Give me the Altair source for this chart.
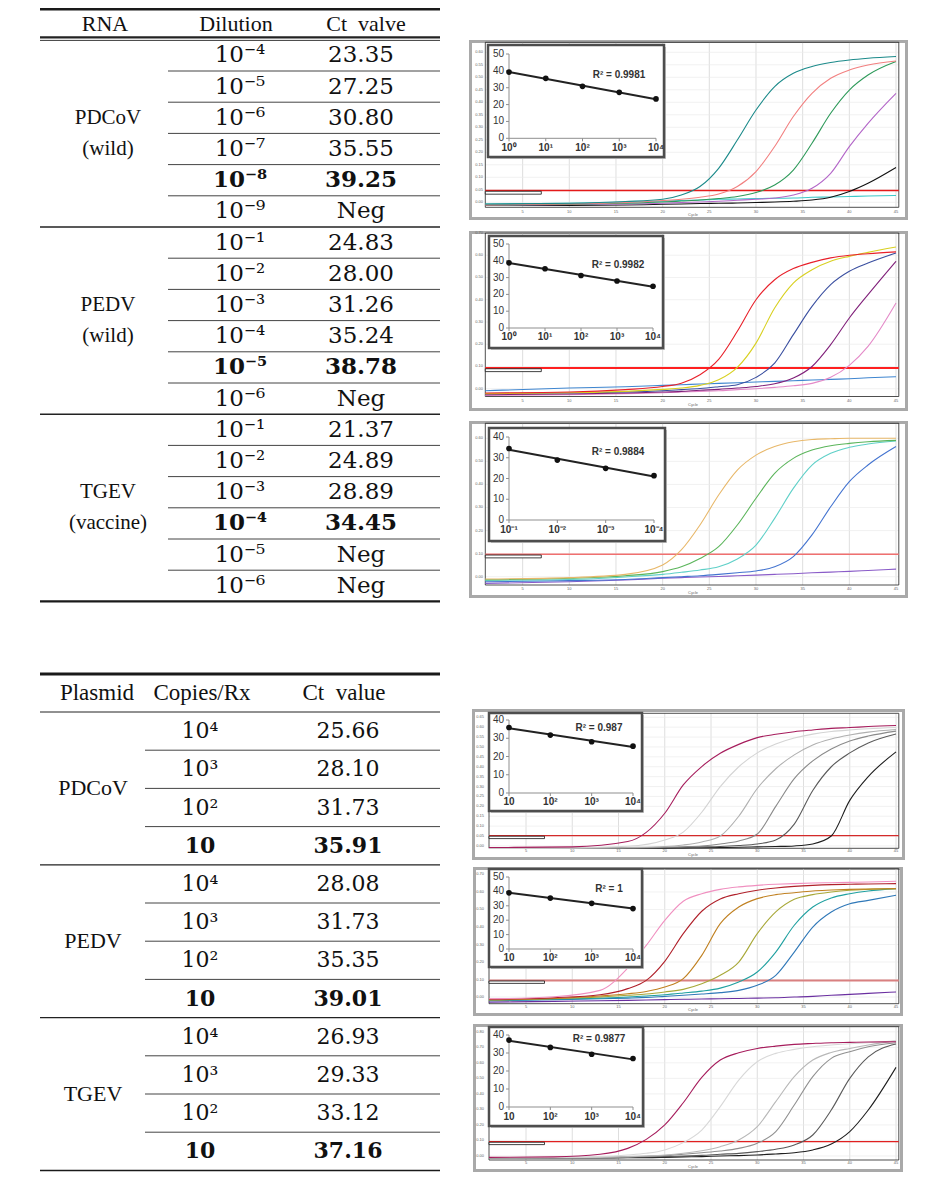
import altair as alt
import pandas as pd

# ====================================================================== TABLE DATA
rna_headers = ["RNA", "Dilution", "Ct\u2002valve"]
rna_groups = ["PDCoV\n(wild)", "PEDV\n(wild)", "TGEV\n(vaccine)"]
rna_dilutions = ["10⁻⁴", "10⁻⁵", "10⁻⁶", "10⁻⁷", "10⁻⁸", "10⁻⁹",
                 "10⁻¹", "10⁻²", "10⁻³", "10⁻⁴", "10⁻⁵", "10⁻⁶",
                 "10⁻¹", "10⁻²", "10⁻³", "10⁻⁴", "10⁻⁵", "10⁻⁶"]
rna_ct_values = ["23.35", "27.25", "30.80", "35.55", "39.25", "Neg",
                 "24.83", "28.00", "31.26", "35.24", "38.78", "Neg",
                 "21.37", "24.89", "28.89", "34.45", "Neg", "Neg"]
rna_bold_rows = [4, 10, 15]

plasmid_headers = ["Plasmid", "Copies/Rx", "Ct\u2002value"]
plasmid_groups = ["PDCoV", "PEDV", "TGEV"]
plasmid_copies = ["10⁴", "10³", "10²", "10",
                  "10⁴", "10³", "10²", "10",
                  "10⁴", "10³", "10²", "10"]
plasmid_ct_values = ["25.66", "28.10", "31.73", "35.91",
                     "28.08", "31.73", "35.35", "39.01",
                     "26.93", "29.33", "33.12", "37.16"]
plasmid_bold_rows = [3, 7, 11]

# ====================================================================== AMPLIFICATION CURVES
cycle_ticks = [5, 10, 15, 20, 25, 30, 35, 40, 45]
cycles_a = [1, 10, 16, 20, 22, 24, 26, 28, 30, 32, 34, 36, 38, 40, 42, 45]
cycles_b = [1, 8, 13, 16, 18, 20, 22, 24, 26, 28, 30, 32, 34, 36, 38, 40, 42, 45]

# PDCoV RNA
p1_teal = [-0.007, -0.004, 0.003, 0.012, 0.029, 0.063, 0.136, 0.249, 0.369, 0.463, 0.516, 0.543, 0.559, 0.569, 0.576, 0.583]
p1_salmon = [-0.011, -0.007, -0.001, 0.007, 0.012, 0.020, 0.033, 0.063, 0.123, 0.223, 0.343, 0.436, 0.496, 0.529, 0.549, 0.565]
p1_green = [-0.011, -0.008, -0.004, 0.001, 0.005, 0.009, 0.015, 0.023, 0.039, 0.069, 0.129, 0.236, 0.356, 0.449, 0.509, 0.563]
p1_violet = [-0.012, -0.009, -0.007, -0.004, -0.001, 0.001, 0.004, 0.008, 0.012, 0.017, 0.029, 0.056, 0.116, 0.223, 0.316, 0.436]
p1_black = [-0.013, -0.013, -0.011, -0.008, -0.007, -0.005, -0.004, -0.003, -0.001, 0.001, 0.004, 0.009, 0.020, 0.043, 0.076, 0.139]
p1_cyan = [-0.007, -0.004, 0.000, 0.004, 0.007, 0.009, 0.012, 0.013, 0.015, 0.016, 0.017, 0.020, 0.021, 0.023, 0.025, 0.027]
p1_yticks = [0.00, 0.05, 0.10, 0.15, 0.20, 0.25, 0.30, 0.35, 0.40, 0.45, 0.50, 0.55, 0.60]
p1_threshold = 0.047

# PEDV RNA
p2_red = [-0.019, -0.015, -0.004, 0.010, 0.025, 0.063, 0.132, 0.258, 0.400, 0.490, 0.540, 0.568, 0.588, 0.600, 0.607, 0.615]
p2_yellow = [-0.022, -0.018, -0.012, -0.003, 0.003, 0.015, 0.040, 0.096, 0.205, 0.363, 0.475, 0.535, 0.573, 0.595, 0.613, 0.637]
p2_navy = [-0.022, -0.019, -0.015, -0.009, -0.004, 0.001, 0.009, 0.018, 0.051, 0.115, 0.243, 0.370, 0.468, 0.528, 0.565, 0.610]
p2_plum = [-0.027, -0.024, -0.019, -0.015, -0.012, -0.007, -0.003, 0.003, 0.010, 0.022, 0.048, 0.100, 0.198, 0.318, 0.423, 0.573]
p2_pink = [-0.030, -0.027, -0.022, -0.018, -0.015, -0.012, -0.009, -0.004, 0.000, 0.006, 0.013, 0.024, 0.051, 0.105, 0.190, 0.385]
p2_steel = [-0.009, 0.003, 0.009, 0.015, 0.018, 0.021, 0.024, 0.027, 0.030, 0.033, 0.036, 0.039, 0.042, 0.045, 0.049, 0.054]
p2_yticks = [0.0, 0.1, 0.2, 0.3, 0.4, 0.5, 0.6, 0.7]
p2_threshold = 0.093

# TGEV RNA
p3_tan = [-0.010, -0.004, 0.010, 0.051, 0.116, 0.224, 0.354, 0.462, 0.527, 0.564, 0.585, 0.595, 0.598, 0.600, 0.600, 0.600]
p3_green = [-0.013, -0.007, 0.004, 0.022, 0.043, 0.079, 0.130, 0.224, 0.340, 0.448, 0.513, 0.549, 0.568, 0.578, 0.585, 0.591]
p3_aqua = [-0.016, -0.012, -0.001, 0.010, 0.019, 0.029, 0.043, 0.077, 0.137, 0.253, 0.383, 0.484, 0.535, 0.561, 0.575, 0.588]
p3_blue = [-0.022, -0.017, -0.012, -0.004, 0.000, 0.004, 0.010, 0.017, 0.025, 0.043, 0.087, 0.181, 0.303, 0.412, 0.484, 0.564]
p3_purple = [-0.029, -0.022, -0.014, -0.007, -0.004, -0.001, 0.001, 0.004, 0.007, 0.010, 0.013, 0.017, 0.020, 0.023, 0.027, 0.033]
p3_yticks = [0.0, 0.1, 0.2, 0.3, 0.4, 0.5, 0.6]
p3_threshold = 0.097

# PDCoV plasmid
p4_magenta = [-0.008, -0.005, 0.022, 0.165, 0.308, 0.401, 0.468, 0.513, 0.547, 0.564, 0.577, 0.586, 0.594, 0.598, 0.603, 0.608]
p4_light = [-0.012, -0.010, -0.002, 0.030, 0.070, 0.170, 0.300, 0.400, 0.470, 0.515, 0.545, 0.565, 0.578, 0.586, 0.592, 0.598]
p4_gray = [-0.012, -0.012, -0.008, -0.003, 0.005, 0.020, 0.050, 0.150, 0.290, 0.390, 0.460, 0.510, 0.540, 0.560, 0.575, 0.588]
p4_mid = [-0.012, -0.012, -0.010, -0.007, -0.004, 0.000, 0.010, 0.025, 0.060, 0.200, 0.340, 0.430, 0.490, 0.530, 0.555, 0.580]
p4_dark = [-0.012, -0.012, -0.011, -0.009, -0.007, -0.005, -0.003, 0.002, 0.010, 0.030, 0.110, 0.280, 0.400, 0.470, 0.520, 0.565]
p4_black = [-0.012, -0.012, -0.012, -0.011, -0.010, -0.009, -0.008, -0.007, -0.005, -0.003, 0.000, 0.010, 0.050, 0.230, 0.350, 0.475]
p4_yticks = [0.00, 0.05, 0.10, 0.15, 0.20, 0.25, 0.30, 0.35, 0.40, 0.45, 0.50, 0.55, 0.60, 0.65]
p4_threshold = 0.052

# PEDV plasmid
p5_pink = [-0.010, 0.002, 0.038, 0.166, 0.295, 0.438, 0.547, 0.590, 0.615, 0.629, 0.638, 0.644, 0.648, 0.651, 0.653, 0.655, 0.657, 0.661]
p5_darkred = [-0.013, -0.004, 0.013, 0.048, 0.095, 0.204, 0.362, 0.490, 0.560, 0.590, 0.610, 0.623, 0.632, 0.638, 0.642, 0.644, 0.646, 0.648]
p5_orange = [-0.015, -0.008, 0.006, 0.019, 0.032, 0.057, 0.105, 0.238, 0.419, 0.514, 0.562, 0.585, 0.596, 0.606, 0.611, 0.615, 0.617, 0.619]
p5_olive = [-0.017, -0.010, 0.000, 0.010, 0.017, 0.029, 0.044, 0.076, 0.124, 0.200, 0.362, 0.486, 0.558, 0.585, 0.600, 0.610, 0.615, 0.619]
p5_teal = [-0.019, -0.013, -0.006, 0.000, 0.006, 0.013, 0.023, 0.034, 0.051, 0.086, 0.143, 0.257, 0.410, 0.514, 0.566, 0.590, 0.606, 0.619]
p5_blue = [-0.021, -0.015, -0.010, -0.006, -0.002, 0.004, 0.010, 0.017, 0.025, 0.038, 0.067, 0.124, 0.257, 0.400, 0.486, 0.533, 0.552, 0.581]
p5_purple = [-0.029, -0.025, -0.021, -0.019, -0.017, -0.015, -0.013, -0.011, -0.010, -0.008, -0.006, -0.004, 0.000, 0.004, 0.010, 0.015, 0.021, 0.029]
p5_yticks = [0.0, 0.1, 0.2, 0.3, 0.4, 0.5, 0.6, 0.7]
p5_threshold = 0.095

# TGEV plasmid
p6_magenta = [-0.009, -0.006, 0.011, 0.049, 0.107, 0.200, 0.343, 0.506, 0.618, 0.665, 0.693, 0.708, 0.719, 0.725, 0.730, 0.732, 0.734, 0.736]
p6_light = [-0.011, -0.009, -0.004, 0.006, 0.017, 0.039, 0.086, 0.167, 0.318, 0.489, 0.607, 0.661, 0.687, 0.704, 0.715, 0.723, 0.730, 0.742]
p6_gray = [-0.011, -0.011, -0.009, -0.004, 0.000, 0.006, 0.017, 0.034, 0.060, 0.103, 0.189, 0.350, 0.511, 0.618, 0.667, 0.693, 0.715, 0.742]
p6_mid = [-0.011, -0.011, -0.009, -0.006, -0.002, 0.002, 0.011, 0.021, 0.032, 0.049, 0.082, 0.157, 0.328, 0.511, 0.629, 0.672, 0.704, 0.730]
p6_dark = [-0.013, -0.013, -0.011, -0.009, -0.006, -0.004, 0.000, 0.004, 0.011, 0.017, 0.028, 0.043, 0.071, 0.135, 0.296, 0.500, 0.639, 0.721]
p6_black = [-0.013, -0.013, -0.013, -0.011, -0.011, -0.009, -0.006, -0.004, 0.000, 0.002, 0.006, 0.013, 0.021, 0.039, 0.077, 0.157, 0.296, 0.571]
p6_yticks = [0.0, 0.1, 0.2, 0.3, 0.4, 0.5, 0.6, 0.7, 0.8]
p6_threshold = 0.092

# ====================================================================== STANDARD CURVE INSETS
inset1_ct = [39.25, 35.55, 30.80, 27.25, 23.35]
inset1_labels = ["10⁰", "10¹", "10²", "10³", "10⁴"]
inset1_r2 = "R² = 0.9981"
inset2_ct = [38.78, 35.24, 31.26, 28.00, 24.83]
inset2_labels = ["10⁰", "10¹", "10²", "10³", "10⁴"]
inset2_r2 = "R² = 0.9982"
inset3_ct = [34.45, 28.89, 24.89, 21.37]
inset3_labels = ["10⁻¹", "10⁻²", "10⁻³", "10⁻⁴"]
inset3_r2 = "R² = 0.9884"
inset4_ct = [35.91, 31.73, 28.10, 25.66]
inset4_labels = ["10", "10²", "10³", "10⁴"]
inset4_r2 = "R² = 0.987"
inset5_ct = [39.01, 35.35, 31.73, 28.08]
inset5_labels = ["10", "10²", "10³", "10⁴"]
inset5_r2 = "R² = 1"
inset6_ct = [37.16, 33.12, 29.33, 26.93]
inset6_labels = ["10", "10²", "10³", "10⁴"]
inset6_r2 = "R² = 0.9877"

# ====================================================================== STYLE / LAYOUT
SERIF = "Liberation Serif"
NUMF = "DejaVu Serif"
SANS = "Liberation Sans"
ONE = pd.DataFrame({"k": [0]})


def table_chart(T, headers, groups, col2, col3, bold_rows, per_group):
    n = len(col2)
    ys = alt.Scale(domain=[0, n], range=[T["row_top"], T["row_bottom"]], nice=False, zero=False)
    rows = pd.DataFrame({"mid": [i + 0.5 for i in range(n)], "c2": col2, "c3": col3,
                         "bold": [i in bold_rows for i in range(n)]})
    grp = pd.DataFrame({"mid": [g * per_group + per_group / 2 for g in range(len(groups))],
                        "label": groups})
    inner = pd.DataFrame({"b": [i for i in range(1, n) if i % per_group]})
    block = pd.DataFrame({"b": [i for i in range(per_group, n, per_group)]})
    L, R = T["left"], T["right"]

    def Y(f):
        return alt.Y(f, scale=ys, axis=None)

    layers = [alt.Chart(ONE).mark_rect(fill="white", opacity=0).encode(
        x=alt.value(0), x2=alt.value(T["W"]), y=alt.value(0), y2=alt.value(T["H"]))]
    layers.append(alt.Chart(ONE).mark_rule(color="#1a1a1a", strokeWidth=T["top_w"]).encode(
        x=alt.value(L), x2=alt.value(R), y=alt.value(T["top_y"])))
    for h, hx in zip(headers, T["head_x"]):
        layers.append(alt.Chart(ONE).mark_text(text=h, font=SERIF, fontSize=T["head_fs"],
                                               baseline="middle", color="#111").encode(
            x=alt.value(hx), y=alt.value(T["head_y"])))
    for yy, w in T["head_lines"]:
        layers.append(alt.Chart(ONE).mark_rule(color="#222", strokeWidth=w).encode(
            x=alt.value(L), x2=alt.value(R), y=alt.value(yy)))
    layers.append(alt.Chart(inner).mark_rule(color="#444", strokeWidth=1).encode(
        x=alt.value(T["inner_x"]), x2=alt.value(R), y=Y("b:Q")))
    layers.append(alt.Chart(block).mark_rule(color="#222", strokeWidth=T["block_w"]).encode(
        x=alt.value(L), x2=alt.value(R), y=Y("b:Q")))
    layers.append(alt.Chart(ONE).mark_rule(color="#1a1a1a", strokeWidth=T["bottom_w"]).encode(
        x=alt.value(L), x2=alt.value(R), y=alt.YDatum(n, scale=ys, axis=None)))
    layers.append(alt.Chart(grp).mark_text(font=SERIF, fontSize=T["lab_fs"], lineBreak="\n",
                                           lineHeight=T["lab_lh"], baseline="middle",
                                           dy=T["lab_dy"], color="#111").encode(
        x=alt.value(T["val_x"][0]), y=Y("mid:Q"), text="label:N"))
    for field, cx in (("c2", T["val_x"][1]), ("c3", T["val_x"][2])):
        for flt, wt in (("!datum.bold", "normal"), ("datum.bold", "bold")):
            layers.append(alt.Chart(rows).transform_filter(flt).mark_text(
                font=NUMF, fontSize=T["num_fs"], fontWeight=wt, baseline="middle",
                color="#111").encode(x=alt.value(cx), y=Y("mid:Q"), text=f"{field}:N"))
    return alt.layer(*layers).properties(width=T["W"], height=T["H"])


def plot_chart(P):
    xs = alt.Scale(domain=P["xdom"], range=P["xrng"], nice=False, zero=False)
    ys = alt.Scale(domain=P["ydom"], range=P["yrng"], nice=False, zero=False)
    x0, x1 = P["xdom"]
    y0, y1 = P["ydom"]

    def XD(v):
        return alt.XDatum(v, scale=xs, axis=None)

    def YD(v):
        return alt.YDatum(v, scale=ys, axis=None)

    fx0, fy0, fx1, fy1 = P["frame"]
    xt = pd.DataFrame({"t": cycle_ticks, "lab": [str(t) for t in cycle_ticks]})
    yt = pd.DataFrame({"t": P["yticks"], "lab": [P["yfmt"].format(t) for t in P["yticks"]]})
    thr = P["threshold"]
    box_h = 0.022 * (y1 - y0)

    main = [
        alt.Chart(ONE).mark_rect(fill="white", opacity=0).encode(
            x=alt.value(0), x2=alt.value(439), y=alt.value(0), y2=alt.value(P["H"])),
        alt.Chart(ONE).mark_rect(fill="white", stroke="#a9a9a9", strokeWidth=3).encode(
            x=alt.value(fx0 + 1.5), x2=alt.value(fx1 - 1.5), y=alt.value(fy0 + 1.5), y2=alt.value(fy1 - 1.5)),
        alt.Chart(xt).mark_rule(color="#d6d6d6", strokeWidth=0.8).encode(
            x=alt.X("t:Q", scale=xs, axis=None), y=YD(y0), y2=alt.datum(y1)),
        alt.Chart(yt).mark_rule(color="#ebebeb", strokeWidth=0.7).encode(
            y=alt.Y("t:Q", scale=ys, axis=None), x=XD(x0), x2=alt.datum(x1)),
        alt.Chart(ONE).mark_rect(fill="white", fillOpacity=0, stroke="#222", strokeWidth=0.8).encode(
            x=XD(x0), x2=alt.datum(x1), y=YD(y0), y2=alt.datum(y1)),
        alt.Chart(ONE).mark_rule(color=P["thr_color"], strokeWidth=P["thr_w"]).encode(
            y=YD(thr), x=XD(x0), x2=alt.datum(x1)),
    ]
    for (name, vals), col in zip(P["curves"], P["colors"]):
        df = pd.DataFrame({"cycle": P["cycles"], "rfu": vals})
        main.append(alt.Chart(df).mark_line(color=col, strokeWidth=1.1, interpolate="monotone").encode(
            x=alt.X("cycle:Q", scale=xs, axis=None),
            y=alt.Y("rfu:Q", scale=ys, axis=None)))
    main += [
        alt.Chart(ONE).mark_rect(fill="white", stroke="#111", strokeWidth=0.8).encode(
            x=XD(x0), x2=alt.datum(x0 + 6.0), y=YD(thr - 0.2 * box_h), y2=alt.datum(thr - box_h)),
        alt.Chart(yt).mark_text(font=SANS, fontSize=4, align="right", baseline="middle",
                                color="#666").encode(
            y=alt.Y("t:Q", scale=ys, axis=None), x=alt.value(P["ylab_x"]), text="lab:N"),
        alt.Chart(xt).mark_text(font=SANS, fontSize=4, baseline="middle", color="#666").encode(
            x=alt.X("t:Q", scale=xs, axis=None), y=alt.value(P["xlab_y"]), text="lab:N"),
        alt.Chart(ONE).mark_text(text="Cycle", font=SANS, fontSize=4, color="#666").encode(
            x=alt.value(224), y=alt.value(P["xlab_y"] + 3.5)),
    ]

    I = P["inset"]
    cts = I["ct"]
    n = len(cts)
    isx = alt.Scale(domain=[0, n - 1], range=I["xr"], nice=False, zero=False)
    isy = alt.Scale(domain=[0, I["ymax"]], range=I["yr"], nice=False, zero=False)
    pts = pd.DataFrame({"i": list(range(n)), "ct": cts, "lab": I["labels"]})
    iyticks = list(range(0, I["ymax"] + 1, 10))
    iyt = pd.DataFrame({"t": iyticks, "lab": [str(t) for t in iyticks]})
    bx0, by0, bx1, by1 = I["box"]
    ax = I["xr"][0]
    base = I["yr"][0]

    def IXD(v):
        return alt.XDatum(v, scale=isx, axis=None)

    def IYD(v):
        return alt.YDatum(v, scale=isy, axis=None)

    inset = [
        alt.Chart(ONE).mark_rect(fill="#c8c8c8").encode(
            x=alt.value(bx0 + 2), x2=alt.value(bx1 + 2), y=alt.value(by0 + 2), y2=alt.value(by1 + 2)),
        alt.Chart(ONE).mark_rect(fill="white", stroke="#4d4d4d", strokeWidth=2.5).encode(
            x=alt.value(bx0), x2=alt.value(bx1), y=alt.value(by0), y2=alt.value(by1)),
        alt.Chart(ONE).mark_rule(color="#8f8f8f", strokeWidth=1).encode(
            x=IXD(0), y=IYD(0), y2=alt.datum(I["ymax"])),
        alt.Chart(ONE).mark_rule(color="#8f8f8f", strokeWidth=1).encode(
            y=IYD(0), x=IXD(0), x2=alt.datum(n - 1)),
        alt.Chart(iyt).mark_rule(color="#8f8f8f", strokeWidth=1).encode(
            y=alt.Y("t:Q", scale=isy, axis=None), x=alt.value(ax - 3), x2=alt.value(ax)),
        alt.Chart(pts).mark_rule(color="#8f8f8f", strokeWidth=1).encode(
            x=alt.X("i:Q", scale=isx, axis=None), y=alt.value(base), y2=alt.value(base + 3)),
        alt.Chart(iyt).mark_text(font=SANS, fontSize=10, align="right",
                                 baseline="middle", color="#333").encode(
            y=alt.Y("t:Q", scale=isy, axis=None), x=alt.value(ax - 5), text="lab:N"),
        alt.Chart(pts).mark_text(font=SANS, fontSize=10, fontWeight="bold", baseline="middle",
                                 color="#333").encode(
            x=alt.X("i:Q", scale=isx, axis=None), y=alt.value(I["xlab_y"]), text="lab:N"),
        alt.Chart(pts).transform_regression("i", "ct").mark_line(color="#222", strokeWidth=2).encode(
            x=alt.X("i:Q", scale=isx, axis=None), y=alt.Y("ct:Q", scale=isy, axis=None)),
        alt.Chart(pts).mark_circle(size=32, color="#111", opacity=1).encode(
            x=alt.X("i:Q", scale=isx, axis=None), y=alt.Y("ct:Q", scale=isy, axis=None)),
        alt.Chart(ONE).mark_text(text=I["r2"], font=SANS, fontSize=10, fontWeight="bold",
                                 baseline="middle", color="#333").encode(
            x=alt.value(I["r2_xy"][0]), y=alt.value(I["r2_xy"][1])),
    ]
    return alt.layer(alt.layer(*main), alt.layer(*inset)).resolve_scale(
        x="independent", y="independent").properties(width=439, height=P["H"])


T1 = dict(W=451, H=596, left=32, right=432, top_y=1.2, top_w=2.4, head_y=15.5, head_fs=22,
          head_x=[97, 228, 358], val_x=[100, 232, 353], head_lines=[(29.4, 2.2), (32.4, 0.9)],
          row_top=31.8, row_bottom=593.4, inner_x=160, block_w=1.4, bottom_w=2.2,
          lab_fs=21, lab_lh=31, lab_dy=-15.5, num_fs=23)
T2 = dict(W=451, H=570, left=32, right=432, top_y=70, top_w=2.8, head_y=89, head_fs=23,
          head_x=[89, 194, 336], val_x=[85, 192, 340], head_lines=[(108, 1.0)],
          row_top=108, row_bottom=566.4, inner_x=137, block_w=1.3, bottom_w=1.5,
          lab_fs=22, lab_lh=38, lab_dy=0, num_fs=22)

TOP_X = dict(xdom=[1, 45.3], xrng=[16.3, 429.8], ylab_x=14)
BOT_X = dict(xdom=[1, 45.3], xrng=[20, 429.8], ylab_x=15)

P1 = dict(TOP_X, H=218, frame=(0, 32, 439, 212), ydom=[-0.02, 0.64], yrng=[199.3, 34.3],
          xlab_y=203.5, yticks=p1_yticks, yfmt="{:.2f}", threshold=p1_threshold,
          thr_color="#e41a1a", thr_w=1.5, cycles=cycles_a,
          curves=[("A6", p1_cyan), ("A5", p1_black), ("A4", p1_violet), ("A3", p1_green),
                  ("A2", p1_salmon), ("A1", p1_teal)],
          colors=["#3cc8c8", "#111111", "#b366c8", "#2e9a5a", "#f28080", "#1b8a8a"],
          inset=dict(box=(19, 37, 195, 149), xr=[40, 187], yr=[130.3, 46], ymax=50,
                     xlab_y=139.5, r2_xy=(150, 67), ct=inset1_ct, labels=inset1_labels, r2=inset1_r2))
P2 = dict(TOP_X, H=190, frame=(0, 5, 439, 185), ydom=[-0.035, 0.70], yrng=[170.5, 7],
          xlab_y=175, yticks=p2_yticks, yfmt="{:.2f}", threshold=p2_threshold,
          thr_color="#ff2020", thr_w=2, cycles=cycles_a,
          curves=[("B6", p2_steel), ("B5", p2_pink), ("B4", p2_plum), ("B3", p2_navy),
                  ("B2", p2_yellow), ("B1", p2_red)],
          colors=["#3f86d0", "#e48ac8", "#80207a", "#3a4fa0", "#d8d020", "#e8202a"],
          inset=dict(box=(20, 10, 194, 122), xr=[40, 184], yr=[102, 18], ymax=50,
                     xlab_y=111, r2_xy=(149, 39), ct=inset2_ct, labels=inset2_labels, r2=inset2_r2))
P3 = dict(TOP_X, H=188, frame=(0, 5, 439, 182), ydom=[-0.036, 0.665], yrng=[169, 7.3],
          xlab_y=173, yticks=p3_yticks, yfmt="{:.2f}", threshold=p3_threshold,
          thr_color="#f07070", thr_w=1.5, cycles=cycles_a,
          curves=[("C5", p3_purple), ("C4", p3_blue), ("C3", p3_aqua), ("C2", p3_green),
                  ("C1", p3_tan)],
          colors=["#8a5cc8", "#4474d0", "#5fd0c8", "#5bb55b", "#e8b86a"],
          inset=dict(box=(20, 12, 196, 125), xr=[40, 185], yr=[104, 21], ymax=40,
                     xlab_y=114, r2_xy=(149, 36), ct=inset3_ct, labels=inset3_labels, r2=inset3_r2))
P4 = dict(BOT_X, H=260, frame=(3, 105, 436, 256), ydom=[-0.012, 0.67], yrng=[244.3, 109.3],
          xlab_y=247, yticks=p4_yticks, yfmt="{:.2f}", threshold=p4_threshold,
          thr_color="#d42a2a", thr_w=1.2, cycles=cycles_a,
          curves=[("D6", p4_black), ("D5", p4_dark), ("D4", p4_mid), ("D3", p4_gray),
                  ("D2", p4_light), ("D1", p4_magenta)],
          colors=["#1e1e1e", "#5a5a5a", "#8a8a8a", "#b0b0b0", "#d4d4d4", "#a61c5c"],
          inset=dict(box=(20, 109, 173, 207), xr=[40, 164], yr=[189, 116], ymax=40,
                     xlab_y=198, r2_xy=(130, 124), ct=inset4_ct, labels=inset4_labels, r2=inset4_r2))
P5 = dict(BOT_X, H=156, frame=(4, 3, 434, 152), ydom=[-0.038, 0.733], yrng=[139.7, 4.7],
          xlab_y=142.5, yticks=p5_yticks, yfmt="{:.2f}", threshold=p5_threshold,
          thr_color="#d98080", thr_w=2, cycles=cycles_b,
          curves=[("E7", p5_purple), ("E6", p5_blue), ("E5", p5_teal), ("E4", p5_olive),
                  ("E3", p5_orange), ("E2", p5_darkred), ("E1", p5_pink)],
          colors=["#6a2fa0", "#2f78b8", "#1fa0a0", "#a8a838", "#c08020", "#b0202a", "#f090c0"],
          inset=dict(box=(20, 5, 173, 103), xr=[40, 164], yr=[85, 13], ymax=50,
                     xlab_y=94, r2_xy=(140, 25), ct=inset5_ct, labels=inset5_labels, r2=inset5_r2))
P6 = dict(BOT_X, H=154, frame=(4, 4, 434, 152), ydom=[-0.026, 0.833], yrng=[140, 6.7],
          xlab_y=143, yticks=p6_yticks, yfmt="{:.2f}", threshold=p6_threshold,
          thr_color="#e02020", thr_w=1.2, cycles=cycles_b,
          curves=[("F6", p6_black), ("F5", p6_dark), ("F4", p6_mid), ("F3", p6_gray),
                  ("F2", p6_light), ("F1", p6_magenta)],
          colors=["#1e1e1e", "#5a5a5a", "#909090", "#b8b8b8", "#d8d8d8", "#a61c5c"],
          inset=dict(box=(20, 7, 174, 106), xr=[40, 164], yr=[87, 15], ymax=40,
                     xlab_y=96.5, r2_xy=(130, 19), ct=inset6_ct, labels=inset6_labels, r2=inset6_r2))

t1 = table_chart(T1, rna_headers, rna_groups, rna_dilutions, rna_ct_values, rna_bold_rows, 6)
t2 = table_chart(T2, plasmid_headers, plasmid_groups, plasmid_copies, plasmid_ct_values,
                 plasmid_bold_rows, 4)

top = alt.hconcat(t1, alt.vconcat(plot_chart(P1), plot_chart(P2), plot_chart(P3),
                                  spacing=0, bounds="flush"), spacing=10, bounds="flush")
bottom = alt.hconcat(t2, alt.vconcat(plot_chart(P4), plot_chart(P5), plot_chart(P6),
                                     spacing=0, bounds="flush"), spacing=10, bounds="flush")
chart = alt.vconcat(top, bottom, spacing=0).properties(
    padding=0).configure_view(strokeWidth=0)

chart.save("out.html", embed_options={"renderer": "svg", "actions": False})
